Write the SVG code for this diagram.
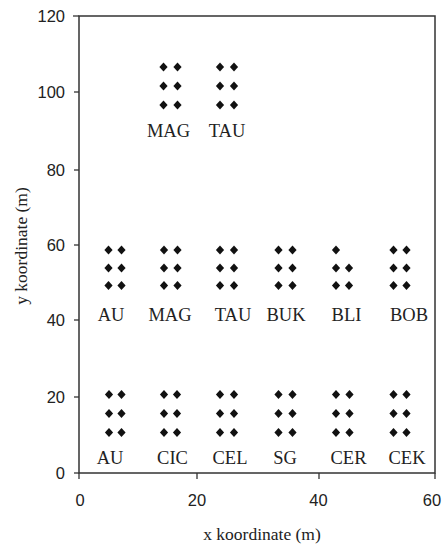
<svg xmlns="http://www.w3.org/2000/svg" xmlns:xlink="http://www.w3.org/1999/xlink" width="443" height="546" viewBox="0 0 443 546">
<style>
.ax{stroke:#333;stroke-width:1.5;fill:none}
.tk{stroke:#333;stroke-width:1.3}
.num{font-family:"Liberation Sans",Arial,sans-serif;font-size:16.5px;fill:#222}
.lab{font-family:"Liberation Serif","Times New Roman",serif;font-size:18.5px;fill:#222;text-anchor:middle}
.ttl{font-family:"Liberation Serif","Times New Roman",serif;font-size:17.5px;fill:#222;text-anchor:middle}
</style>
<defs>
<polygon id="d" points="0,-4.6 4.1,0 0,4.6 -4.1,0" fill="#111"/>
</defs>
<rect width="443" height="546" fill="#fff"/>
<g id="axes">
<rect class="ax" x="79" y="16" width="356" height="457"/>
<g class="tk">
<line x1="73" y1="16" x2="79" y2="16"/>
<line x1="74" y1="92" x2="79" y2="92"/>
<line x1="74" y1="170" x2="79" y2="170"/>
<line x1="74" y1="245" x2="79" y2="245"/>
<line x1="74" y1="320" x2="79" y2="320"/>
<line x1="74" y1="397" x2="79" y2="397"/>
<line x1="74" y1="473" x2="79" y2="473"/>
<line x1="79" y1="473" x2="79" y2="479"/>
<line x1="197" y1="473" x2="197" y2="479"/>
<line x1="319" y1="473" x2="319" y2="479"/>
<line x1="435" y1="473" x2="435" y2="479"/>
</g>
<g class="num" text-anchor="end">
<text x="65" y="22">120</text>
<text x="65" y="98">100</text>
<text x="65" y="176">80</text>
<text x="65" y="251">60</text>
<text x="65" y="326">40</text>
<text x="65" y="403">20</text>
<text x="65" y="479">0</text>
</g>
<g class="num" text-anchor="middle">
<text x="80" y="506">0</text>
<text x="197" y="506">20</text>
<text x="318.5" y="506">40</text>
<text x="432" y="506">60</text>
</g>
<text class="ttl" x="262" y="540">x koordinate (m)</text>
<text class="ttl" font-size="18.5px" transform="translate(27,246) rotate(-90)">y koordinate (m)</text>
</g>
<g id="connectors"></g>
<g id="top-MAG">
<use xlink:href="#d" x="163.5" y="67"/><use xlink:href="#d" x="177.5" y="67"/>
<use xlink:href="#d" x="163.5" y="86"/><use xlink:href="#d" x="177.5" y="86"/>
<use xlink:href="#d" x="163.5" y="105"/><use xlink:href="#d" x="177.5" y="105"/>
<text class="lab" x="168.5" y="137">MAG</text>
</g>
<g id="top-TAU">
<use xlink:href="#d" x="220" y="67"/><use xlink:href="#d" x="234" y="67"/>
<use xlink:href="#d" x="220" y="86"/><use xlink:href="#d" x="234" y="86"/>
<use xlink:href="#d" x="220" y="105"/><use xlink:href="#d" x="234" y="105"/>
<text class="lab" x="227" y="137">TAU</text>
</g>
<g id="mid-AU">
<use xlink:href="#d" x="108.5" y="250"/><use xlink:href="#d" x="121.5" y="250"/>
<use xlink:href="#d" x="108.5" y="268"/><use xlink:href="#d" x="121.5" y="268"/>
<use xlink:href="#d" x="108.5" y="285.5"/><use xlink:href="#d" x="121.5" y="285.5"/>
<text class="lab" x="111" y="321">AU</text>
</g>
<g id="mid-MAG">
<use xlink:href="#d" x="164" y="250"/><use xlink:href="#d" x="177.5" y="250"/>
<use xlink:href="#d" x="164" y="268"/><use xlink:href="#d" x="177.5" y="268"/>
<use xlink:href="#d" x="164" y="285.5"/><use xlink:href="#d" x="177.5" y="285.5"/>
<text class="lab" x="170" y="321">MAG</text>
</g>
<g id="mid-TAU">
<use xlink:href="#d" x="220" y="250"/><use xlink:href="#d" x="234" y="250"/>
<use xlink:href="#d" x="220" y="268"/><use xlink:href="#d" x="234" y="268"/>
<use xlink:href="#d" x="220" y="285.5"/><use xlink:href="#d" x="234" y="285.5"/>
<text class="lab" x="233" y="321">TAU</text>
</g>
<g id="mid-BUK">
<use xlink:href="#d" x="278.5" y="250"/><use xlink:href="#d" x="292.5" y="250"/>
<use xlink:href="#d" x="278.5" y="268"/><use xlink:href="#d" x="292.5" y="268"/>
<use xlink:href="#d" x="278.5" y="285.5"/><use xlink:href="#d" x="292.5" y="285.5"/>
<text class="lab" x="286" y="321">BUK</text>
</g>
<g id="mid-BLI">
<use xlink:href="#d" x="336" y="250"/>
<use xlink:href="#d" x="336" y="268"/><use xlink:href="#d" x="349" y="268"/>
<use xlink:href="#d" x="336" y="285.5"/><use xlink:href="#d" x="349" y="285.5"/>
<text class="lab" x="346.5" y="321">BLI</text>
</g>
<g id="mid-BOB">
<use xlink:href="#d" x="393.5" y="250"/><use xlink:href="#d" x="406.5" y="250"/>
<use xlink:href="#d" x="393.5" y="268"/><use xlink:href="#d" x="406.5" y="268"/>
<use xlink:href="#d" x="393.5" y="285.5"/><use xlink:href="#d" x="406.5" y="285.5"/>
<text class="lab" x="409" y="321">BOB</text>
</g>
<g id="bot-AU">
<use xlink:href="#d" x="109" y="394.5"/><use xlink:href="#d" x="121.5" y="394.5"/>
<use xlink:href="#d" x="109" y="413.5"/><use xlink:href="#d" x="121.5" y="413.5"/>
<use xlink:href="#d" x="109" y="432.5"/><use xlink:href="#d" x="121.5" y="432.5"/>
<text class="lab" x="110" y="464">AU</text>
</g>
<g id="bot-CIC">
<use xlink:href="#d" x="164" y="394.5"/><use xlink:href="#d" x="177" y="394.5"/>
<use xlink:href="#d" x="164" y="413.5"/><use xlink:href="#d" x="177" y="413.5"/>
<use xlink:href="#d" x="164" y="432.5"/><use xlink:href="#d" x="177" y="432.5"/>
<text class="lab" x="172.5" y="464">CIC</text>
</g>
<g id="bot-CEL">
<use xlink:href="#d" x="220" y="394.5"/><use xlink:href="#d" x="234" y="394.5"/>
<use xlink:href="#d" x="220" y="413.5"/><use xlink:href="#d" x="234" y="413.5"/>
<use xlink:href="#d" x="220" y="432.5"/><use xlink:href="#d" x="234" y="432.5"/>
<text class="lab" x="230" y="464">CEL</text>
</g>
<g id="bot-SG">
<use xlink:href="#d" x="278.5" y="394.5"/><use xlink:href="#d" x="292.5" y="394.5"/>
<use xlink:href="#d" x="278.5" y="413.5"/><use xlink:href="#d" x="292.5" y="413.5"/>
<use xlink:href="#d" x="278.5" y="432.5"/><use xlink:href="#d" x="292.5" y="432.5"/>
<text class="lab" x="285" y="464">SG</text>
</g>
<g id="bot-CER">
<use xlink:href="#d" x="336" y="394.5"/><use xlink:href="#d" x="349.5" y="394.5"/>
<use xlink:href="#d" x="336" y="413.5"/><use xlink:href="#d" x="349.5" y="413.5"/>
<use xlink:href="#d" x="336" y="432.5"/><use xlink:href="#d" x="349.5" y="432.5"/>
<text class="lab" x="348.5" y="464">CER</text>
</g>
<g id="bot-CEK">
<use xlink:href="#d" x="393.5" y="394.5"/><use xlink:href="#d" x="406.5" y="394.5"/>
<use xlink:href="#d" x="393.5" y="413.5"/><use xlink:href="#d" x="406.5" y="413.5"/>
<use xlink:href="#d" x="393.5" y="432.5"/><use xlink:href="#d" x="406.5" y="432.5"/>
<text class="lab" x="407" y="464">CEK</text>
</g>
</svg>
